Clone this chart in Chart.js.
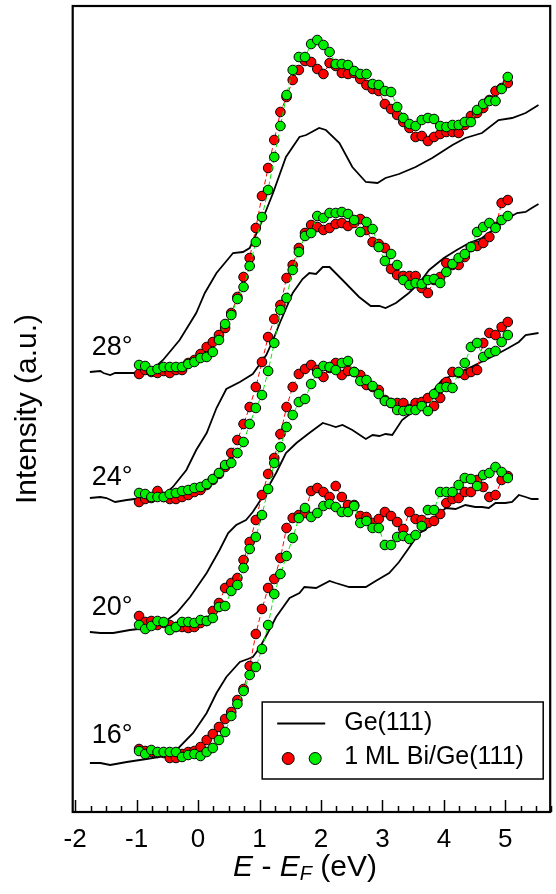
<!DOCTYPE html>
<html>
<head>
<meta charset="utf-8">
<script src="https://cdn.jsdelivr.net/npm/chart.js@4.4.1/dist/chart.umd.min.js"></script>
<style>
  html, body { margin: 0; padding: 0; background: #fff; }
</style>
</head>
<body>
<canvas id="grafico" width="556" height="894"></canvas>
<script>
// energia comum dos pontos de Bi/Ge (eV)
const energia = [-0.96,-0.86,-0.76,-0.66,-0.56,-0.46,-0.36,-0.26,-0.16,-0.06,
  0.04,0.14,0.24,0.34,0.44,0.54,0.64,0.74,0.84,0.94,
  1.04,1.14,1.24,1.34,1.44,1.54,1.64,1.74,1.84,1.94,
  2.04,2.14,2.24,2.34,2.44,2.54,2.64,2.74,2.84,2.94,
  3.04,3.14,3.24,3.34,3.44,3.54,3.64,3.74,3.84,3.94,
  4.04,4.14,4.24,4.34,4.44,4.54,4.64,4.74,4.84,4.94,5.04];

// 1 ML Bi/Ge(111), intensidade (u.a.)
const bi28Vermelho = [438,442,440,439,441,439,442,442,449,452,458,465,470,477,484,499,515,535,554,584,616,644,672,700,715,732,742,751,750,743,738,749,746,739,738,739,733,727,723,721,708,703,697,690,684,675,676,671,675,678,680,680,679,687,696,699,704,712,721,724,729];
const bi28Verde = [447,446,441,443,445,445,445,445,448,450,454,455,460,472,488,497,513,525,546,570,595,622,655,686,717,742,755,755,768,772,767,760,748,748,747,741,738,738,728,727,721,720,705,694,688,686,692,694,693,686,685,687,687,690,690,702,708,711,711,723,735];
const bi24Vermelho = [310,313,314,321,315,313,313,315,317,320,322,327,332,338,345,359,372,388,405,425,450,475,493,507,534,547,564,579,587,585,582,584,588,589,586,589,593,582,570,568,564,543,537,536,536,536,524,519,532,535,549,547,547,555,565,566,569,575,585,609,612];
const bi24Verde = [319,318,315,315,315,318,319,321,322,324,325,328,333,339,347,349,359,370,388,404,417,441,469,502,514,542,560,576,579,596,594,599,599,600,598,592,580,590,583,565,551,558,547,532,527,529,528,532,533,529,540,548,554,558,565,580,585,589,584,592,596];
const bi20Vermelho = [196,190,191,187,189,187,185,185,184,185,189,191,201,209,224,229,234,252,270,292,317,338,354,378,405,425,438,443,447,442,435,444,449,437,441,440,437,427,425,422,412,409,409,409,403,409,410,414,406,414,430,440,439,437,440,442,469,479,477,485,490];
const bi20Verde = [187,183,186,191,190,182,185,190,190,189,192,191,194,205,206,221,227,244,263,275,297,323,349,365,385,397,410,413,428,439,446,445,442,449,451,440,431,432,426,418,411,409,402,401,402,402,406,401,418,424,425,424,440,449,465,469,455,459,461,470,477];
const bi16Vermelho = [63,61,60,59,59,54,54,58,60,61,65,72,78,85,93,100,112,123,146,178,203,224,233,254,284,294,297,299,321,324,320,315,326,315,307,307,296,295,289,293,300,296,290,283,300,293,292,289,291,298,309,313,314,320,320,332,325,315,317,332,336];
const bi16Verde = [61,58,62,60,60,60,60,55,57,58,56,60,64,72,80,96,108,121,137,145,163,187,218,238,256,274,294,304,295,299,306,308,305,300,300,306,289,291,284,284,267,267,275,276,273,277,286,302,302,320,320,320,327,334,333,326,337,339,345,340,334];

// Ge(111) limpo: [energia, intensidade]
const ge28 = [[-1.76,440],[-1.59,441],[-1.54,439],[-1.43,437],[-1.35,439],[-1.03,439],[-0.78,440],[-0.57,452],[-0.30,472],[-0.03,499],[0.11,519],[0.30,539],[0.57,559],[0.73,560],[0.84,564],[1.00,585],[1.22,619],[1.43,655],[1.65,675],[1.76,677],[1.97,684],[2.08,682],[2.30,669],[2.51,645],[2.73,630],[2.92,629],[3.05,634],[3.27,638],[3.54,645],[3.81,654],[4.14,667],[4.35,674],[4.62,679],[4.89,692],[5.11,694],[5.33,699],[5.54,707]];
const ge24 = [[-1.76,314],[-1.59,315],[-1.49,314],[-1.35,310],[-1.16,312],[-1.03,313],[-0.78,315],[-0.59,315],[-0.41,325],[-0.19,342],[-0.03,362],[0.14,379],[0.30,404],[0.46,423],[0.68,430],[0.89,438],[1.11,457],[1.22,472],[1.33,489],[1.54,519],[1.70,533],[1.81,539],[1.92,538],[2.03,545],[2.14,545],[2.35,532],[2.62,515],[2.81,506],[2.95,506],[3.05,504],[3.22,509],[3.43,519],[3.60,529],[3.76,542],[4.00,554],[4.21,562],[4.41,569],[4.62,574],[4.84,584],[5.05,594],[5.19,599],[5.33,600],[5.43,604],[5.54,608]];
const ge20 = [[-1.76,180],[-1.59,179],[-1.38,179],[-1.11,182],[-0.84,184],[-0.57,189],[-0.35,199],[-0.13,215],[0.14,239],[0.35,262],[0.49,279],[0.62,287],[0.78,292],[0.89,300],[1.05,315],[1.27,339],[1.43,359],[1.60,369],[1.81,379],[2.03,389],[2.14,387],[2.24,385],[2.35,387],[2.51,382],[2.73,373],[2.84,377],[2.95,376],[3.05,378],[3.16,377],[3.32,392],[3.49,400],[3.70,412],[3.97,432],[4.19,438],[4.41,444],[4.84,457],[5.05,464],[5.22,470],[5.33,477],[5.54,479]];
const ge16 = [[-1.76,49],[-1.59,49],[-1.43,47],[-1.16,50],[-0.84,53],[-0.62,55],[-0.35,62],[-0.08,79],[0.14,99],[0.30,119],[0.46,135],[0.68,150],[0.81,153],[0.89,155],[1.00,164],[1.16,182],[1.27,195],[1.49,214],[1.65,219],[1.73,225],[1.92,224],[2.14,231],[2.24,229],[2.46,225],[2.73,225],[2.89,231],[3.11,239],[3.27,250],[3.43,264],[3.60,279],[3.70,282],[3.87,295],[4.03,304],[4.19,303],[4.35,307],[4.51,305],[4.62,305],[4.73,304],[4.84,309],[5.00,309],[5.11,310],[5.22,317],[5.33,315],[5.43,313],[5.54,313]];

const angulos = ["28°", "24°", "20°", "16°"];
const nivelAngulo = [457, 327, 197, 69];

const FONTE = '"Liberation Sans", Arial, sans-serif';
const VERMELHO = "#ff0000";
const VERDE = "#00ee00";

function pontos(ys) {
  return ys.map((y, i) => ({ x: energia[i], y: y }));
}

function curva(pares) {
  return pares.map(p => ({ x: p[0], y: p[1] }));
}

function serieGe(pares) {
  return {
    data: curva(pares),
    showLine: true,
    borderColor: "#000",
    borderWidth: 1.8,
    pointRadius: 0,
    order: 3
  };
}

function serieBi(ys, cor, ordem) {
  return {
    data: pontos(ys),
    showLine: true,
    borderColor: cor,
    borderWidth: 1,
    borderDash: [5, 3],
    backgroundColor: cor,
    pointBackgroundColor: cor,
    pointBorderColor: "#000",
    pointBorderWidth: 1,
    pointRadius: 4.8,
    order: ordem
  };
}

const datasets = [
  serieGe(ge28), serieGe(ge24), serieGe(ge20), serieGe(ge16),
  serieBi(bi28Vermelho, VERMELHO, 2), serieBi(bi24Vermelho, VERMELHO, 2),
  serieBi(bi20Vermelho, VERMELHO, 2), serieBi(bi16Vermelho, VERMELHO, 2),
  serieBi(bi28Verde, VERDE, 1), serieBi(bi24Verde, VERDE, 1),
  serieBi(bi20Verde, VERDE, 1), serieBi(bi16Verde, VERDE, 1)
];

const molduraPlugin = {
  id: "moldura",
  afterDatasetsDraw(chart) {
    const ctx = chart.ctx;
    const area = chart.chartArea;
    const xs = chart.scales.x;

    ctx.save();
    ctx.strokeStyle = "#000";

    // ticks para dentro
    ctx.lineWidth = 1.5;
    for (let v = -2; v <= 5.75; v += 0.25) {
      const px = Math.round(xs.getPixelForValue(v)) + 0.5;
      const major = Math.abs(v - Math.round(v)) < 1e-6;
      ctx.beginPath();
      ctx.moveTo(px, area.bottom);
      ctx.lineTo(px, area.bottom - (major ? 12 : 6));
      ctx.stroke();
    }

    ctx.lineWidth = 2.2;
    ctx.strokeRect(area.left, area.top, area.right - area.left, area.bottom - area.top);

    // rotulos dos angulos
    ctx.fillStyle = "#000";
    ctx.font = "27px " + FONTE;
    ctx.textAlign = "left";
    ctx.textBaseline = "alphabetic";
    angulos.forEach((txt, i) => {
      ctx.fillText(txt, xs.getPixelForValue(-1.73), chart.scales.y.getPixelForValue(nivelAngulo[i]));
    });

    // legenda
    const lx = area.right - 288;
    const ly = area.bottom - 110;
    ctx.fillStyle = "#fff";
    ctx.fillRect(lx, ly, 281, 77);
    ctx.lineWidth = 1.5;
    ctx.strokeRect(lx, ly, 281, 77);

    ctx.lineWidth = 1.8;
    ctx.beginPath();
    ctx.moveTo(lx + 15, ly + 21.5);
    ctx.lineTo(lx + 63, ly + 21.5);
    ctx.stroke();

    [[lx + 26, VERMELHO], [lx + 53, VERDE]].forEach(([cx, cor]) => {
      ctx.beginPath();
      ctx.arc(cx, ly + 56.5, 6, 0, Math.PI * 2);
      ctx.fillStyle = cor;
      ctx.fill();
      ctx.lineWidth = 1;
      ctx.stroke();
    });

    ctx.fillStyle = "#000";
    ctx.font = "25px " + FONTE;
    ctx.textBaseline = "middle";
    ctx.fillText("Ge(111)", lx + 82, ly + 21);
    ctx.fillText("1 ML Bi/Ge(111)", lx + 82, ly + 55);

    // titulo do eixo x: E - E_F (eV)
    const partes = [
      { t: "E", f: "italic 30px " + FONTE, dy: 0 },
      { t: " - ", f: "30px " + FONTE, dy: 0 },
      { t: "E", f: "italic 30px " + FONTE, dy: 0 },
      { t: "F", f: "italic 20px " + FONTE, dy: 4 },
      { t: " (eV)", f: "30px " + FONTE, dy: 0 }
    ];
    let largura = 0;
    partes.forEach(p => { ctx.font = p.f; largura += ctx.measureText(p.t).width; });
    let tx = 305 - largura / 2;
    const ty = 876;
    ctx.textBaseline = "alphabetic";
    partes.forEach(p => {
      ctx.font = p.f;
      ctx.fillText(p.t, tx, ty + p.dy);
      tx += ctx.measureText(p.t).width;
    });

    ctx.restore();
  }
};

new Chart(document.getElementById("grafico"), {
  type: "scatter",
  data: { datasets: datasets },
  plugins: [molduraPlugin],
  options: {
    responsive: false,
    animation: false,
    devicePixelRatio: 1,
    layout: { padding: { top: 6, right: 4, left: 0, bottom: 0 } },
    plugins: {
      legend: { display: false },
      tooltip: { enabled: false }
    },
    scales: {
      x: {
        type: "linear",
        min: -2.04,
        max: 5.73,
        grid: { display: false, drawTicks: false },
        border: { display: false },
        ticks: {
          stepSize: 1,
          includeBounds: false,
          padding: 12,
          color: "#000",
          font: { family: FONTE, size: 26 }
        },
        afterFit(scale) { scale.height = 82; }
      },
      y: {
        min: 0,
        max: 806,
        grid: { display: false, drawTicks: false },
        border: { display: false },
        ticks: { display: false },
        title: {
          display: true,
          text: "Intensity (a.u.)",
          color: "#000",
          padding: { top: 10, bottom: 0 },
          font: { family: FONTE, size: 30 }
        },
        afterFit(scale) { scale.width = 72.7; }
      }
    }
  }
});
</script>
</body>
</html>
